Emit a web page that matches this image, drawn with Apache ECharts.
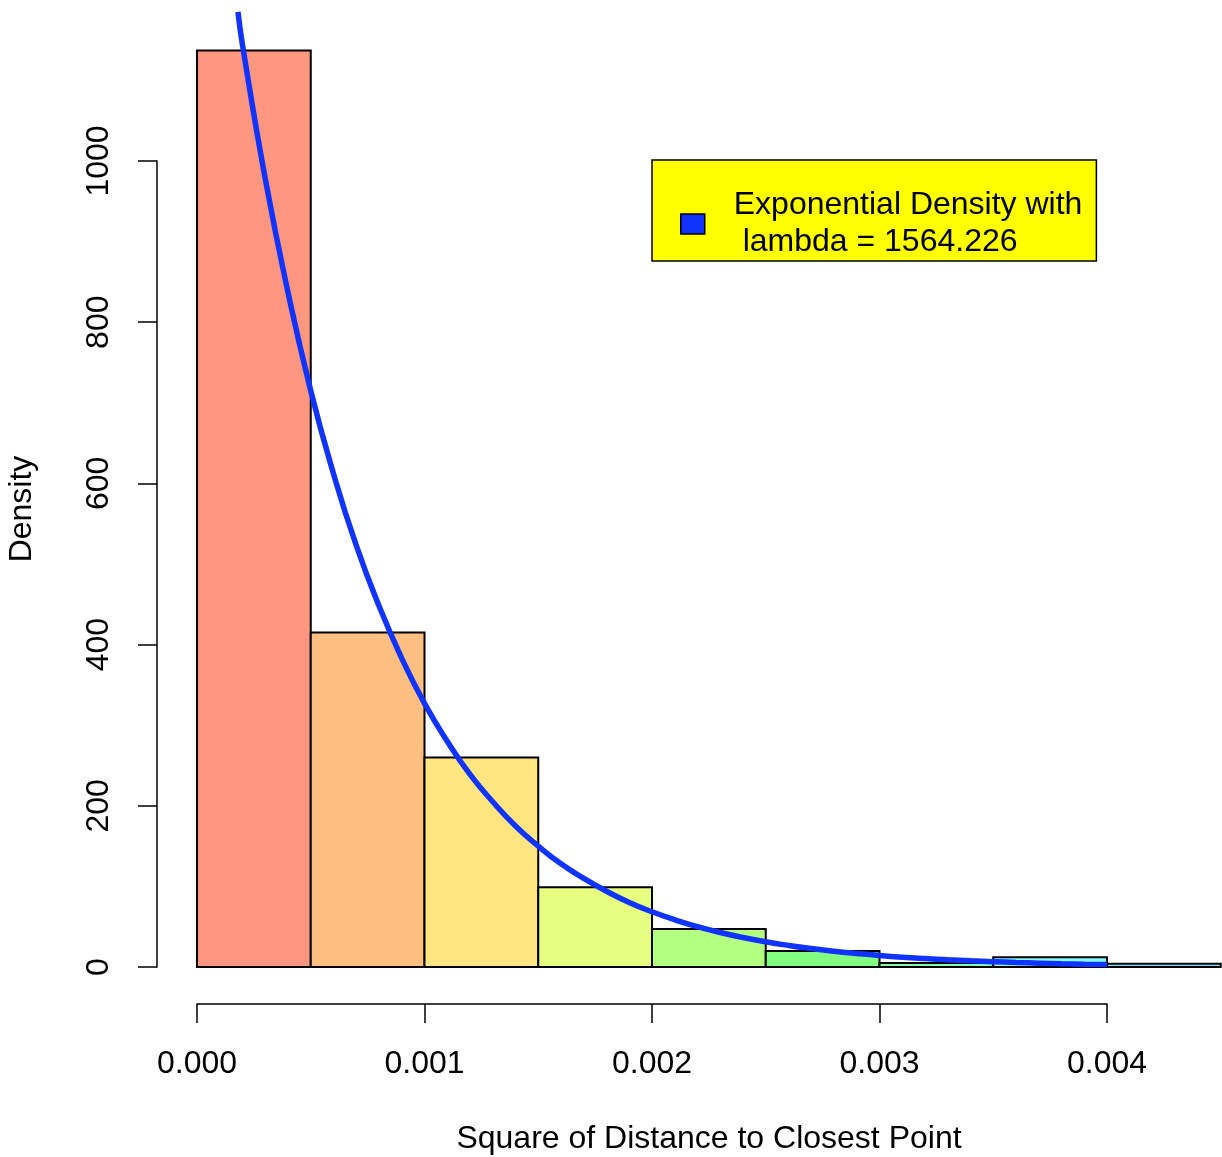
<!DOCTYPE html>
<html>
<head>
<meta charset="utf-8">
<script src="https://cdn.jsdelivr.net/npm/echarts@6/dist/echarts.min.js"></script>
<style>
  html, body { margin: 0; padding: 0; background: #fff; }
  #chart { width: 1222px; height: 1157px; }
</style>
</head>
<body>
<div id="chart"></div>
<script>
// histogram bins (left edge, right edge) and density per bin
var binStart = [0, 0.0005, 0.001, 0.0015, 0.002, 0.0025, 0.003, 0.0035, 0.004]
var binEnd = [0.0005, 0.001, 0.0015, 0.002, 0.0025, 0.003, 0.0035, 0.004, 0.0045]
var density = [1137, 415, 260, 99, 47, 20, 5, 12, 4]
var binColors = ['#FF9680', '#FFBF80', '#FFE680', '#E6FF80', '#B3FF80', '#80FF80', '#80FFB3', '#80FFFF', '#80E6FF']

// fitted curve
var curveX = [0.00018, 0.0002, 0.0003, 0.0004, 0.0005, 0.0006, 0.0007, 0.0008, 0.0009, 0.001,
  0.0011, 0.0012, 0.0013, 0.0014, 0.0015, 0.0016, 0.0017, 0.0018, 0.0019, 0.002,
  0.0021, 0.0022, 0.0023, 0.0024, 0.0025, 0.0026, 0.0027, 0.0028, 0.0029, 0.003,
  0.0031, 0.0032, 0.0033, 0.0034, 0.0035, 0.0036, 0.0037, 0.0038, 0.0039, 0.004]
var curveY = [1185, 1144, 978, 837, 715, 612, 523, 448, 383, 327,
  280, 239, 205, 175, 150, 128, 110, 94, 80, 68.5,
  58.6, 50.1, 42.8, 36.6, 31.3, 26.8, 22.9, 19.6, 16.8, 14.3,
  12.2, 10.5, 9, 7.7, 6.6, 5.6, 4.8, 4.1, 3.5, 3]

var xTicks = ['0.000', '0.001', '0.002', '0.003', '0.004']
var curveName = 'Exponential Density with\n lambda = 1564.226'

var chart = echarts.init(document.getElementById('chart'))

var bars = []
for (var i = 0; i < density.length; i++) {
  bars.push([binStart[i], binEnd[i], density[i]])
}
var curve = []
for (var j = 0; j < curveX.length; j++) {
  curve.push([curveX[j], curveY[j]])
}

var font = 'Liberation Sans, Arial, Helvetica, sans-serif'

chart.setOption({
  animation: false,
  backgroundColor: '#fff',
  textStyle: { fontFamily: font },
  grid: { left: 197, right: 115, top: 161, bottom: 190 },
  legend: {
    left: 652,
    top: 160,
    orient: 'vertical',
    backgroundColor: '#ffff00',
    borderColor: '#000',
    borderWidth: 1.5,
    borderRadius: 0,
    padding: [27, 14, 0, 28],
    itemWidth: 24,
    itemHeight: 20,
    selectedMode: false,
    textStyle: { fontFamily: font, fontSize: 32, color: '#000', lineHeight: 37, padding: [0, 0, 0, 24] },
    data: [{ name: curveName, icon: 'rect', itemStyle: { color: '#1033ff', borderColor: '#000', borderWidth: 1.5 } }]
  },
  xAxis: {
    type: 'value',
    min: 0,
    max: 0.004,
    interval: 0.001,
    offset: 37,
    axisLine: { show: true, onZero: false, lineStyle: { color: '#000', width: 1.5 } },
    axisTick: { show: true, inside: false, length: 19, lineStyle: { color: '#000', width: 1.5 } },
    axisLabel: {
      fontSize: 32,
      color: '#000',
      margin: 44,
      formatter: function (v) {
        var k = Math.round(v / 0.001)
        return xTicks[k]
      }
    },
    splitLine: { show: false }
  },
  yAxis: {
    type: 'value',
    min: 0,
    max: 1000,
    interval: 200,
    offset: 40,
    axisLine: { show: true, onZero: false, lineStyle: { color: '#000', width: 1.5 } },
    axisTick: { show: true, length: 19, lineStyle: { color: '#000', width: 1.5 } },
    axisLabel: {
      fontSize: 32,
      color: '#000',
      rotate: 90,
      margin: 42,
      formatter: function (v) { return String(v) }
    },
    splitLine: { show: false }
  },
  graphic: [
    {
      type: 'text',
      x: 22,
      y: 509,
      rotation: Math.PI / 2,
      style: { text: 'Density', font: '32px ' + font, fill: '#000', align: 'center', verticalAlign: 'middle' }
    },
    {
      type: 'text',
      x: 709,
      y: 1139,
      style: { text: 'Square of Distance to Closest Point', font: '32px ' + font, fill: '#000', align: 'center', verticalAlign: 'middle' }
    }
  ],
  series: [
    {
      type: 'custom',
      name: 'hist',
      clip: false,
      z: 1,
      data: bars,
      renderItem: function (params, api) {
        var p0 = api.coord([api.value(0), 0])
        var p1 = api.coord([api.value(1), api.value(2)])
        return {
          type: 'rect',
          shape: { x: p0[0], y: p1[1], width: p1[0] - p0[0], height: p0[1] - p1[1] },
          style: { fill: binColors[params.dataIndex], stroke: '#000', lineWidth: 2 }
        }
      }
    },
    {
      type: 'line',
      name: curveName,
      data: curve,
      clip: false,
      smooth: true,
      showSymbol: false,
      z: 5,
      itemStyle: { color: '#1033ff' },
      lineStyle: { color: '#1033ff', width: 5.5 }
    }
  ]
})
</script>
</body>
</html>
